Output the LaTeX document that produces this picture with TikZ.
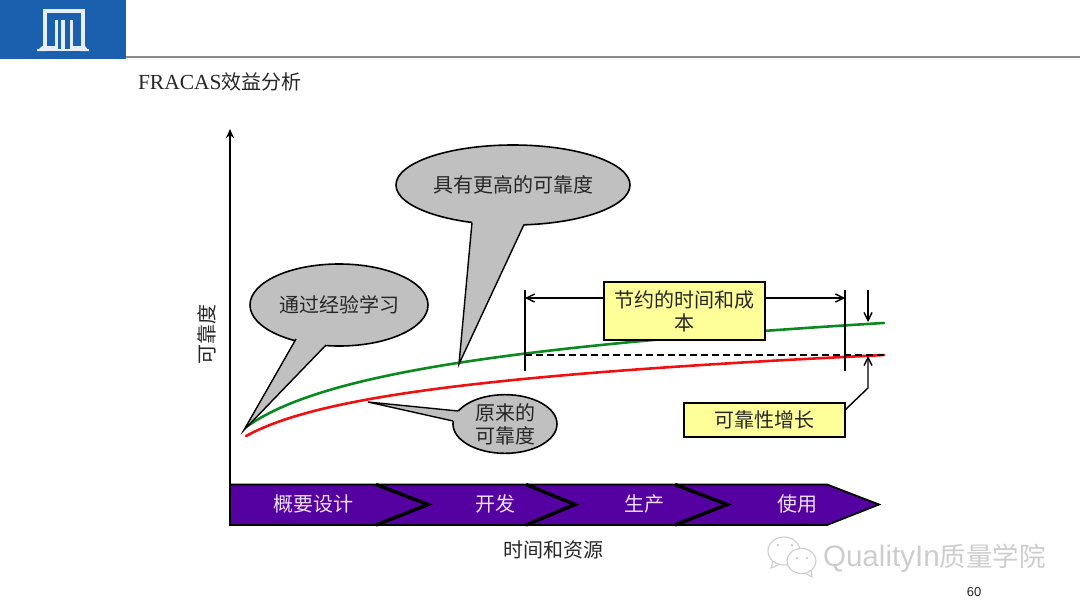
\documentclass[tikz,border=0pt]{standalone}
\usepackage{fontspec}
\setmainfont{Liberation Serif}
\newfontfamily\cjk{Noto Sans CJK SC}
\newfontfamily\arialf{Liberation Sans}
\usetikzlibrary{shapes.geometric,arrows.meta}
\definecolor{logoblue}{HTML}{1B5FAF}
\definecolor{logowhite}{HTML}{E8EEF5}
\definecolor{callgray}{HTML}{C0C0C0}
\definecolor{boxyellow}{HTML}{FFFF99}
\definecolor{barpurple}{HTML}{5500A0}
\definecolor{txt}{HTML}{262626}
\definecolor{wm}{HTML}{CDCDCD}
\definecolor{curvegreen}{HTML}{0A8A1E}
\definecolor{curvered}{HTML}{F01010}
\tikzset{
  x=1pt,y=-1pt,
  every node/.style={inner sep=0pt,outer sep=0pt,text=txt,font=\cjk\fontsize{20}{24}\selectfont},
  callout/.style={ellipse,draw=black,line width=1.6pt,fill=callgray,inner sep=0pt},
  tail/.style={fill=callgray,draw=none},
  tailedge/.style={draw=black,line width=1.4pt,line join=miter},
  yellowbox/.style={rectangle,draw=black,line width=2.5pt,fill=boxyellow},
  phase/.style={text=white!88!barpurple},
  dim/.style={draw=black,line width=1.4pt},
  dimarrow/.style={draw=black,line width=1.4pt,-{Straight Barb[length=8pt,width=8pt]}},
  wmline/.style={draw=wm,line width=1.1pt,fill=white},
  logoline/.style={draw=logowhite,line width=4pt,line cap=butt,line join=miter},
}
\begin{document}
\begin{tikzpicture}
\useasboundingbox (0,0) rectangle (1080,608);
% header
\fill[logoblue] (0,0) rectangle (126,59);
\draw[color=black!45,line width=1.8pt] (126,57) -- (1080,57);
\draw[logoline] (44.5,48) -- (44.5,11) -- (83,11) -- (83,48);
\draw[logoline,line width=3pt] (44.5,47.5) -- (56,47.5) -- (56,20);
\draw[logoline,line width=3pt] (83,47.5) -- (71,47.5) -- (71,20);
\draw[logoline] (62.5,20) -- (62.5,50);
\fill[logowhite] (37,51) -- (42,46) -- (47,46) -- (47,51) -- cycle;
\fill[logowhite] (80,51) -- (80,46) -- (85,46) -- (89,51) -- cycle;
\fill[logowhite] (37,49) rectangle (89,51);
\node[anchor=west] (title) at (138,82) {{\fontspec{Liberation Serif}\fontsize{21.5}{24}\selectfont FRACAS}效益分析};
% axis
\coordinate (axtop) at (230,129);
\coordinate (axbot) at (230,525);
\draw[line width=2.4pt,-{Stealth[length=9pt,width=8pt]}] (axbot) -- (axtop);
\node[rotate=90] (ylab) at (207,334) {可靠度};
\node (xlab) at (553,550) {时间和资源};
% curves
\draw[curvegreen,line width=2.6pt,line cap=round] plot[domain=246:884,samples=80] (\x,{427-42.4*ln(1+(\x-246)/60)});
\draw[curvered,line width=2.6pt,line cap=round] plot[domain=246:884,samples=80] (\x,{436-33*ln(1+(\x-246)/60)});
% dim lines
\coordinate (v1t) at (525,290); \coordinate (v1b) at (525,371);
\coordinate (v2t) at (845,290); \coordinate (v2b) at (845,371);
\coordinate (d1) at (525,298); \coordinate (d2) at (845,298);
\coordinate (dash1) at (525,355); \coordinate (dash2) at (884,355);
\coordinate (dn1) at (868,290); \coordinate (dn2) at (868,322);
\coordinate (up1) at (868,388); \coordinate (up2) at (868,356);
\draw[dim] (v1t) -- (v1b);
\draw[dim] (v2t) -- (v2b);
\draw[black,line width=1.5pt,dash pattern=on 7pt off 4pt] (dash1) -- (dash2);
% yellow boxes
\node[yellowbox,minimum width=161pt,minimum height=58pt,align=center,font=\cjk\fontsize{20}{23}\selectfont] (save) at (684.5,311) {节约的时间和成\\本};
\node[yellowbox,minimum width=161pt,minimum height=34pt] (grow) at (764.5,420) {可靠性增长};
\draw[dimarrow] (save.west |- d1) -- (d1);
\draw[dimarrow] (save.east |- d2) -- (d2);
\draw[dimarrow] (dn1) -- (dn2);
\draw[dimarrow] (grow.east |- 0,410) -- (up1) -- (up2);
% callouts
\node[callout,minimum width=178pt,minimum height=82pt] (c1) at (339,305) {通过经验学习};
\coordinate (c1a) at (296,339); \coordinate (c1b) at (326,345); \coordinate (c1t) at (244,430);
\coordinate (c1ai) at (300,334); \coordinate (c1bi) at (328,340);
\fill[tail] (c1a) -- (c1t) -- (c1b) -- (c1bi) -- (c1ai) -- cycle;
\draw[tailedge] (c1a) -- (c1t) -- (c1b);
\node[callout,minimum width=234pt,minimum height=80pt] (c2) at (513,185) {具有更高的可靠度};
\coordinate (c2a) at (472,222.5); \coordinate (c2b) at (524,224.5); \coordinate (c2t) at (459,364);
\coordinate (c2ai) at (475,218); \coordinate (c2bi) at (524,220);
\fill[tail] (c2a) -- (c2t) -- (c2b) -- (c2bi) -- (c2ai) -- cycle;
\draw[tailedge] (c2a) -- (c2t) -- (c2b);
\node[callout,minimum width=104pt,minimum height=58pt,align=center,font=\cjk\fontsize{20}{23}\selectfont] (c3) at (505,424) {原来的\\可靠度};
\coordinate (c3a) at (458,411); \coordinate (c3b) at (453,421); \coordinate (c3t) at (368,402);
\coordinate (c3ai) at (461,413); \coordinate (c3bi) at (457,421);
\fill[tail] (c3a) -- (c3t) -- (c3b) -- (c3bi) -- (c3ai) -- cycle;
\draw[tailedge] (c3a) -- (c3t) -- (c3b);
% process bar
\fill[barpurple,draw=black,line width=1.8pt,line join=miter] (230,484.5) -- (827,484.5) -- (879,504.5) -- (827,525) -- (230,525) -- cycle;
\draw[black,line width=3.5pt] (376,484.5) -- (428,504.5) -- (376,525);
\draw[black,line width=3.5pt] (526,484.5) -- (575,504.5) -- (526,525);
\draw[black,line width=3.5pt] (675,484.5) -- (727,504.5) -- (675,525);
\node[phase] (p1) at (313,504) {概要设计};
\node[phase] (p2) at (495,504) {开发};
\node[phase] (p3) at (644,504) {生产};
\node[phase] (p4) at (797,504) {使用};
% watermark
\draw[wmline] (773,561) -- (771,568) -- (783,563);
\draw[wmline] (784,551) ellipse (16 and 14);
\draw[wmline] (803,572) -- (812,577) -- (811,568);
\draw[wmline] (801.5,561) ellipse (14.5 and 12.5);
\fill[wm] (778,545) circle (1.3) (792,545) circle (1.3) (797,558) circle (1.3) (807,558) circle (1.3);
\node[anchor=west,font=\cjk\fontsize{26.5}{30}\selectfont,text=wm] (wmtext) at (823,558) {{\arialf\fontsize{29.6}{30}\selectfont QualityIn}质量学院};
\node[font=\arialf\fontsize{13}{15}\selectfont] (pg) at (974,592) {60};
\end{tikzpicture}
\end{document}
